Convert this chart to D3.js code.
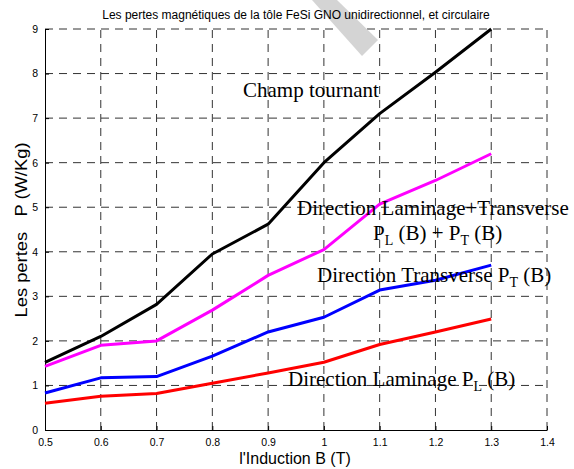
<!DOCTYPE html>
<html>
<head>
<meta charset="utf-8">
<script src="https://cdn.jsdelivr.net/npm/d3@7"></script>
<style>
  body { margin: 0; background: #fff; }
  svg { display: block; }
</style>
</head>
<body>
<div id="chart"></div>
<script>
// Les pertes magnétiques, tôle FeSi GNO

// Data
var induction = [0.5, 0.6, 0.7, 0.8, 0.9, 1.0, 1.1, 1.2, 1.3];
var champTournant = [1.52, 2.1, 2.82, 3.95, 4.62, 6.0, 7.1, 8.03, 9.0];
var laminageTransverse = [1.43, 1.9, 2.0, 2.69, 3.47, 4.05, 5.07, 5.6, 6.2];
var transverse = [0.83, 1.17, 1.2, 1.66, 2.2, 2.53, 3.14, 3.36, 3.7];
var laminage = [0.6, 0.76, 0.82, 1.05, 1.28, 1.52, 1.92, 2.2, 2.49];
var xTicks = [0.5, 0.6, 0.7, 0.8, 0.9, 1.0, 1.1, 1.2, 1.3, 1.4];
var yTicks = [0, 1, 2, 3, 4, 5, 6, 7, 8, 9];

var width = 574,
    height = 469;

var x = d3.scaleLinear().domain([0.5, 1.4]).range([45, 547]);
var y = d3.scaleLinear().domain([0, 9]).range([430, 29]);

var svg = d3.select("#chart")
    .append("svg")
    .attr("width", width)
    .attr("height", height);

// dashed grid
svg.append("g")
    .selectAll("line")
    .data(xTicks.slice(1))
    .enter()
    .append("line")
    .attr("x1", function(d) { return x(d); })
    .attr("x2", function(d) { return x(d); })
    .attr("y1", y(0))
    .attr("y2", y(9))
    .attr("stroke", "#333")
    .attr("stroke-dasharray", "8,6");

svg.append("g")
    .selectAll("line")
    .data(yTicks.slice(1))
    .enter()
    .append("line")
    .attr("x1", x(0.5))
    .attr("x2", x(1.4))
    .attr("y1", function(d) { return y(d); })
    .attr("y2", function(d) { return y(d); })
    .attr("stroke", "#333")
    .attr("stroke-dasharray", "8,6");

// axes (left and bottom only, ticks pointing inwards)
var fmt = function(d) { return String(+d.toFixed(1)); };

var xAxis = svg.append("g")
    .attr("transform", "translate(0," + y(0) + ")")
    .call(d3.axisBottom(x).tickValues(xTicks).tickFormat(fmt).tickSizeInner(-4).tickSizeOuter(0).tickPadding(9));

var yAxis = svg.append("g")
    .attr("transform", "translate(" + x(0.5) + ",0)")
    .call(d3.axisLeft(y).tickValues(yTicks).tickSizeInner(-4).tickSizeOuter(0).tickPadding(7));

[xAxis, yAxis].forEach(function(a) {
    a.select(".domain").attr("stroke", "#000");
    a.selectAll("line").attr("stroke", "#000");
    a.selectAll("text")
        .style("font-family", "Arial, 'Liberation Sans', sans-serif")
        .style("font-size", "10.5px")
        .attr("fill", "#000");
});

// curves
var series = [
    { values: laminage, color: "#ff0000" },
    { values: transverse, color: "#0000ff" },
    { values: laminageTransverse, color: "#ff00ff" },
    { values: champTournant, color: "#000000" }
];

var line = d3.line()
    .x(function(d, i) { return x(induction[i]); })
    .y(function(d) { return y(d); });

series.forEach(function(s) {
    svg.append("path")
        .datum(s.values)
        .attr("d", line)
        .attr("fill", "none")
        .attr("stroke", s.color)
        .attr("stroke-width", 3)
        .attr("stroke-linejoin", "round");
});

// annotations (text parts; objects are subscripts)
var serif = "'Times New Roman', 'Liberation Serif', serif";

function note(tx, ty, parts) {
    var t = svg.append("text")
        .attr("x", tx)
        .attr("y", ty)
        .style("font-family", serif)
        .style("font-size", "21px")
        .attr("fill", "#000");
    parts.forEach(function(p) {
        if (typeof p === "object") {
            t.append("tspan").attr("dy", 5).style("font-size", "14px").text(p.s);
            t.append("tspan").attr("dy", -5).text(" ");
        } else {
            t.append("tspan").text(p);
        }
    });
}

note(243, 97, ["Champ tournant"]);
note(297, 215, ["Direction Laminage+Transverse"]);
note(373, 240, ["P", { s: "L" }, "(B) + P", { s: "T" }, "(B)"]);
note(317, 282, ["Direction Transverse P", { s: "T" }, "(B)"]);
note(288, 386, ["Direction Laminage P", { s: "L" }, "(B)"]);

// grey band in the top of the picture
svg.append("polygon")
    .attr("points", "312,0 337,0 378,40 362,56")
    .attr("fill", "#d4d4d4");

// title and axis labels
svg.append("text")
    .attr("x", 296)
    .attr("y", 19)
    .attr("text-anchor", "middle")
    .style("font-family", "Arial, 'Liberation Sans', sans-serif")
    .style("font-size", "12px")
    .text("Les pertes magnétiques de la tôle FeSi GNO unidirectionnel, et circulaire");

svg.append("text")
    .attr("x", 295)
    .attr("y", 464)
    .attr("text-anchor", "middle")
    .style("font-family", "Arial, 'Liberation Sans', sans-serif")
    .style("font-size", "16px")
    .text("l'Induction B (T)");

svg.append("text")
    .attr("transform", "translate(27,230) rotate(-90)")
    .attr("text-anchor", "middle")
    .attr("textLength", 175)
    .attr("lengthAdjust", "spacingAndGlyphs")
    .style("white-space", "pre")
    .style("font-family", "Arial, 'Liberation Sans', sans-serif")
    .style("font-size", "17px")
    .text("Les pertes   P (W/Kg)");
</script>
</body>
</html>
